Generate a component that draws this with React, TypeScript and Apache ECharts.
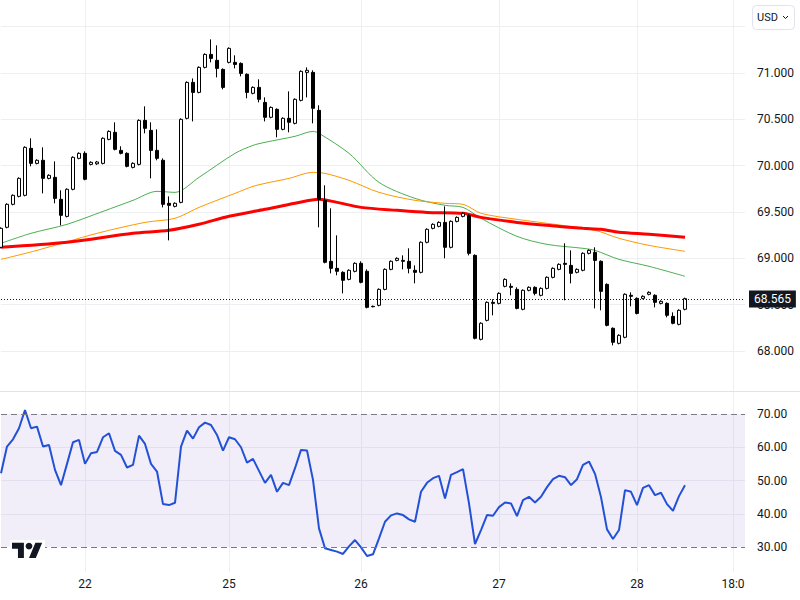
import React, { useEffect, useRef } from 'react';
import * as echarts from 'echarts';

// ---------- data ----------
const categoryCount = 125; // hourly slots on the time axis (incl. empty space on the right)
const tickIndex = [14, 38, 60, 83, 106, 122];
const tickLabels = ['22', '25', '26', '27', '28', '18:0'];

const opens = [
  69.119, 69.335, 69.583, 69.669, 69.680, 70.187, 70.025, 70.058, 69.863, 69.874,
  69.637, 69.453, 69.745, 70.079, 70.133, 70.014, 70.020, 70.025, 70.284, 70.360,
  70.165, 70.133, 69.982, 70.014, 70.489, 70.381, 70.165, 70.058, 69.594, 69.561,
  69.604, 70.511, 70.899, 70.791, 71.061, 71.201, 71.137, 71.039, 71.115, 71.115,
  71.104, 70.986, 70.781, 70.845, 70.683, 70.522, 70.608, 70.392, 70.511, 70.457,
  70.705, 71.007, 71.007, 70.597, 69.626, 68.968, 68.892, 68.849, 68.773, 68.860,
  68.946, 68.860, 68.482, 68.493, 68.665, 68.881, 68.978, 68.978, 68.968, 68.871,
  68.849, 69.173, 69.324, 69.345, 69.388, 69.119, 69.399, 69.453, 69.464, 69.032,
  68.126, 68.331, 68.525, 68.514, 68.698, 68.698, 68.665, 68.450, 68.655, 68.687,
  68.601, 68.676, 68.795, 68.881, 68.946, 68.924, 68.849, 68.871, 69.054, 69.065,
  68.968, 68.719, 68.245, 68.083, 68.148, 68.601, 68.568, 68.568, 68.612, 68.601,
  68.514, 68.514, 68.374, 68.288, 68.450,
];
const closes = [
  69.324, 69.583, 69.680, 69.863, 70.198, 70.025, 70.058, 69.863, 69.896, 69.647,
  69.464, 69.745, 70.090, 70.133, 69.853, 70.036, 70.040, 70.295, 70.370, 70.176,
  70.133, 69.993, 70.025, 70.489, 70.403, 70.165, 70.079, 69.583, 69.572, 69.594,
  70.500, 70.899, 70.791, 71.061, 71.201, 71.158, 71.050, 70.845, 71.266, 71.093,
  70.996, 70.791, 70.845, 70.716, 70.522, 70.629, 70.392, 70.511, 70.468, 70.716,
  71.018, 71.029, 70.619, 69.637, 68.957, 68.892, 68.860, 68.763, 68.871, 68.946,
  68.741, 68.471, 68.478, 68.665, 68.881, 68.968, 69.000, 68.968, 68.892, 68.849,
  69.173, 69.313, 69.367, 69.388, 69.119, 69.399, 69.442, 69.486, 69.054, 68.137,
  68.299, 68.525, 68.514, 68.622, 68.773, 68.687, 68.460, 68.655, 68.687, 68.622,
  68.676, 68.795, 68.892, 68.935, 68.935, 68.838, 68.881, 69.054, 69.086, 68.978,
  68.644, 68.277, 68.094, 68.169, 68.612, 68.590, 68.406, 68.590, 68.633, 68.525,
  68.536, 68.385, 68.299, 68.439, 68.565,
];
const lows = [
  69.108, 69.324, 69.572, 69.658, 69.669, 69.993, 70.014, 69.701, 69.853, 69.594,
  69.356, 69.442, 69.734, 70.069, 69.842, 70.003, 70.009, 70.014, 70.274, 70.165,
  70.122, 69.982, 69.971, 70.003, 70.349, 69.863, 70.058, 69.550, 69.194, 69.550,
  69.594, 70.500, 70.478, 70.781, 71.050, 71.115, 70.953, 70.824, 71.104, 71.050,
  70.964, 70.727, 70.770, 70.683, 70.478, 70.511, 70.306, 70.381, 70.360, 70.446,
  70.694, 70.737, 70.457, 69.335, 68.946, 68.838, 68.817, 68.622, 68.763, 68.849,
  68.730, 68.460, 68.471, 68.482, 68.655, 68.871, 68.968, 68.881, 68.838, 68.730,
  68.838, 69.162, 69.313, 69.335, 69.000, 69.108, 69.388, 69.442, 69.032, 68.126,
  68.115, 68.320, 68.385, 68.503, 68.687, 68.601, 68.450, 68.439, 68.644, 68.601,
  68.590, 68.665, 68.784, 68.871, 68.547, 68.730, 68.838, 68.860, 69.043, 68.460,
  68.439, 68.266, 68.061, 68.072, 68.137, 68.482, 68.395, 68.558, 68.601, 68.471,
  68.503, 68.363, 68.288, 68.277, 68.439,
];
const highs = [
  69.335, 69.594, 69.690, 69.874, 70.209, 70.295, 70.069, 70.198, 69.907, 70.047,
  69.734, 69.756, 70.101, 70.144, 70.155, 70.047, 70.051, 70.306, 70.381, 70.468,
  70.209, 70.144, 70.036, 70.500, 70.640, 70.468, 70.392, 70.079, 69.669, 69.604,
  70.511, 70.910, 70.942, 71.072, 71.212, 71.363, 71.299, 71.050, 71.277, 71.191,
  71.115, 70.996, 70.856, 70.932, 70.737, 70.640, 70.619, 70.522, 70.802, 70.727,
  71.029, 71.061, 71.029, 70.651, 69.788, 69.540, 69.248, 68.860, 68.881, 68.957,
  68.968, 68.881, 68.490, 68.676, 68.892, 68.978, 69.011, 69.032, 69.108, 68.924,
  69.183, 69.324, 69.378, 69.399, 69.561, 69.410, 69.453, 69.497, 69.475, 69.043,
  68.310, 68.536, 68.558, 68.633, 68.784, 68.730, 68.687, 68.665, 68.698, 68.698,
  68.687, 68.806, 68.903, 68.946, 69.162, 69.086, 68.892, 69.065, 69.097, 69.119,
  68.978, 68.730, 68.255, 68.180, 68.622, 68.633, 68.579, 68.601, 68.644, 68.612,
  68.547, 68.525, 68.417, 68.450, 68.576,
];
const lastPrice = 68.565;
const priceMin = 68;
const priceMax = 71.788; // price at the top edge of the upper pane
const priceStep = 0.5;

// moving averages, read at sample bars: [bar index], [value]
const ma50Idx = [0, 5, 11, 17, 22, 26, 29, 33, 39, 42, 44, 49, 52, 53, 58, 63, 69, 74, 77, 80, 86, 91, 97, 99, 103, 108, 114];
const ma50Val = [69.162, 69.270, 69.367, 69.507, 69.626, 69.723, 69.712, 69.874, 70.133, 70.219, 70.252, 70.317, 70.370, 70.349, 70.133, 69.820, 69.647, 69.572, 69.550, 69.432, 69.237, 69.151, 69.108, 69.086, 68.989, 68.914, 68.806];
const ma100Idx = [0, 6, 16, 24, 29, 33, 39, 42, 44, 48, 52, 54, 58, 63, 69, 74, 77, 80, 86, 91, 99, 103, 108, 114];
const ma100Val = [68.989, 69.086, 69.270, 69.388, 69.432, 69.550, 69.701, 69.777, 69.809, 69.863, 69.928, 69.917, 69.842, 69.712, 69.626, 69.594, 69.583, 69.486, 69.421, 69.378, 69.302, 69.216, 69.140, 69.076];
const ma200Idx = [0, 11, 22, 28, 33, 38, 44, 49, 53, 56, 60, 66, 71, 77, 80, 86, 91, 97, 100, 103, 108, 114];
const ma200Val = [69.119, 69.173, 69.270, 69.302, 69.367, 69.454, 69.529, 69.594, 69.637, 69.604, 69.550, 69.518, 69.496, 69.486, 69.442, 69.388, 69.356, 69.324, 69.313, 69.281, 69.259, 69.227];

const rsi = [
  52.2, 60.2, 62.4, 65.7, 71.2, 65.7, 66.2, 60.2, 60.7, 53.2,
  48.6, 55.0, 61.5, 62.2, 55.0, 58.2, 58.6, 63.0, 64.2, 58.9,
  57.7, 53.9, 54.7, 63.5, 61.0, 55.0, 52.7, 42.9, 42.6, 43.3,
  60.2, 65.0, 62.6, 66.0, 67.4, 66.7, 63.7, 59.0, 63.0, 62.4,
  60.0, 55.4, 56.5, 52.9, 49.3, 51.7, 46.6, 49.3, 48.6, 53.7,
  59.2, 59.0, 50.2, 35.6, 29.6, 29.1, 28.6, 27.9, 30.2, 32.1,
  29.9, 27.3, 27.8, 32.6, 37.6, 39.5, 40.1, 39.6, 38.3, 37.6,
  46.6, 49.3, 50.7, 51.4, 44.6, 51.7, 52.5, 53.4, 43.1, 30.9,
  35.1, 39.6, 39.4, 42.0, 43.4, 43.1, 39.3, 44.1, 45.1, 43.4,
  45.1, 48.0, 50.4, 51.4, 51.0, 48.6, 50.4, 54.7, 55.7, 52.0,
  45.0, 35.3, 32.4, 35.1, 47.1, 46.6, 42.6, 47.8, 48.6, 45.6,
  46.3, 42.9, 40.9, 45.3, 48.6,
];
const rsiUpper = 70;
const rsiLower = 30;

// ---------- logo ----------
const LOGO_D = 'M14 22H7V11H0V4h14v18zM28 22h-8l7.5-18h8L28 22z';
let logoRegistered = false;
function registerLogo() {
  if (logoRegistered) return;
  echarts.graphic.registerShape('tvlogo', (echarts.graphic as any).extendPath(LOGO_D, {}));
  logoRegistered = true;
}

const FONT = 'Roboto';
const TEXT = '#131722';
const GRID = '#eeeff3';

export default function App() {
  const ref = useRef<HTMLDivElement>(null);

  useEffect(() => {
    if (!ref.current) return;
    registerLogo();
    const chart = echarts.init(ref.current, undefined, { renderer: 'svg' });

    const categories = Array.from({ length: categoryCount }, (_, i) => String(i));
    const candleData = opens.map((o, i) => [o, closes[i], lows[i], highs[i]]);
    const pairs = (idx: number[], val: number[]) => idx.map((k, i) => [k, val[i]]);
    const isTick = (i: number) => tickIndex.indexOf(i) >= 0;

    const hiddenCat = (gridIndex: number) => ({
      type: 'category',
      gridIndex,
      data: categories,
      boundaryGap: false,
      axisLine: { show: false },
      axisTick: { show: false },
      axisLabel: { show: false },
      splitLine: { show: false },
    });

    const option: any = {
      animation: false,
      backgroundColor: '#ffffff',
      textStyle: { fontFamily: FONT },
      grid: [
        { left: 1, width: 744, top: 0, height: 351 },
        { left: 1, width: 744, top: 414, height: 133 },
        { left: 1, width: 744, top: 0, height: 572 },
      ],
      xAxis: [
        hiddenCat(0),
        hiddenCat(1),
        {
          type: 'category',
          gridIndex: 2,
          data: categories,
          boundaryGap: false,
          axisLine: { show: false },
          axisTick: { show: false },
          axisLabel: {
            interval: (i: number) => isTick(i),
            formatter: (_v: string, i: number) => {
              const p = tickIndex.indexOf(i);
              return p >= 0 ? tickLabels[p] : '';
            },
            margin: 6,
            color: TEXT,
            fontSize: 12,
            fontFamily: FONT,
          },
          splitLine: {
            show: true,
            interval: (i: number) => isTick(i),
            lineStyle: { color: GRID, width: 1 },
          },
        },
      ],
      yAxis: [
        {
          type: 'value',
          gridIndex: 0,
          position: 'right',
          min: priceMin,
          max: priceMax,
          interval: priceStep,
          axisLine: { show: false },
          axisTick: { show: false },
          axisLabel: {
            margin: 12,
            color: TEXT,
            fontSize: 12,
            fontFamily: FONT,
            showMaxLabel: false,
            formatter: (v: number) => (v >= 71.5 ? '' : v.toFixed(3)),
          },
          splitLine: { show: true, showMaxLine: false, lineStyle: { color: GRID, width: 1 } },
        },
        {
          type: 'value',
          gridIndex: 1,
          position: 'right',
          min: 30,
          max: 70,
          interval: 10,
          axisLine: { show: false },
          axisTick: { show: false },
          axisLabel: {
            margin: 12,
            color: TEXT,
            fontSize: 12,
            fontFamily: FONT,
            formatter: (v: number) => v.toFixed(2),
          },
          splitLine: { show: true, showMinLine: false, showMaxLine: false, lineStyle: { color: GRID, width: 1 } },
        },
        { type: 'value', gridIndex: 2, show: false, min: 0, max: 1, splitLine: { show: false } },
      ],
      series: [
        {
          name: 'MA50',
          type: 'line',
          xAxisIndex: 0,
          yAxisIndex: 0,
          data: pairs(ma50Idx, ma50Val),
          symbol: 'none',
          smooth: 0.3,
          lineStyle: { color: '#4caf50', width: 1 },
          z: 1,
        },
        {
          name: 'MA100',
          type: 'line',
          xAxisIndex: 0,
          yAxisIndex: 0,
          data: pairs(ma100Idx, ma100Val),
          symbol: 'none',
          smooth: 0.3,
          lineStyle: { color: '#ff9800', width: 1 },
          z: 1,
        },
        {
          name: 'MA200',
          type: 'line',
          xAxisIndex: 0,
          yAxisIndex: 0,
          data: pairs(ma200Idx, ma200Val),
          symbol: 'none',
          smooth: 0.3,
          lineStyle: { color: '#ff0000', width: 3 },
          z: 1,
        },
        {
          name: 'Price',
          type: 'candlestick',
          xAxisIndex: 0,
          yAxisIndex: 0,
          data: candleData,
          barWidth: 4,
          itemStyle: {
            color: '#ffffff',
            color0: '#000000',
            borderColor: '#000000',
            borderColor0: '#000000',
            borderWidth: 1,
          },
          z: 3,
          markLine: {
            silent: true,
            symbol: ['none', 'none'],
            lineStyle: { color: TEXT, type: [1, 2], width: 1 },
            label: {
              show: true,
              position: 'end',
              distance: 4,
              formatter: () => lastPrice.toFixed(3),
              backgroundColor: TEXT,
              color: '#ffffff',
              fontSize: 12,
              fontFamily: FONT,
              padding: [3, 5, 2, 5],
            },
            data: [{ yAxis: lastPrice }],
          },
        },
        {
          name: 'RSI',
          type: 'line',
          xAxisIndex: 1,
          yAxisIndex: 1,
          data: rsi,
          symbol: 'none',
          clip: false,
          lineStyle: { color: '#2251d6', width: 2 },
          z: 3,
          markArea: {
            silent: true,
            itemStyle: { color: 'rgba(126, 87, 194, 0.1)' },
            data: [[{ yAxis: rsiLower }, { yAxis: rsiUpper }]],
          },
          markLine: {
            silent: true,
            symbol: ['none', 'none'],
            label: { show: false },
            lineStyle: { color: '#787b86', type: [6, 4], width: 1 },
            data: [{ yAxis: rsiUpper }, { yAxis: rsiLower }],
          },
        },
      ],
      graphic: [
        {
          type: 'line',
          z: 50,
          shape: { x1: 0, y1: 391.5, x2: 800, y2: 391.5 },
          style: { stroke: '#e0e3eb', lineWidth: 1 },
        },
        {
          type: 'rect',
          z: 50,
          shape: { x: 752.5, y: 5.5, width: 42, height: 24, r: 4 },
          style: { fill: '#ffffff', stroke: '#e0e3eb', lineWidth: 1 },
        },
        {
          type: 'text',
          z: 51,
          x: 757,
          y: 17.5,
          style: { text: 'USD', fill: TEXT, font: `11px ${FONT}`, verticalAlign: 'middle', align: 'left' },
        },
        {
          type: 'polyline',
          z: 51,
          shape: { points: [[783, 16], [785.5, 18.5], [788, 16]] },
          style: { stroke: TEXT, lineWidth: 1, fill: 'none' },
        },
        {
          type: 'rect',
          z: 50,
          shape: { x: 10, y: 540, width: 35, height: 20 },
          style: { fill: '#ffffff' },
        },
        {
          type: 'tvlogo',
          z: 51,
          x: 12,
          y: 539.3,
          scaleX: 0.85,
          scaleY: 0.85,
          style: { fill: TEXT },
        },
        {
          type: 'circle',
          z: 51,
          shape: { cx: 12 + 20 * 0.85, cy: 539.3 + 8 * 0.85, r: 4 * 0.85 },
          style: { fill: TEXT },
        },
      ],
    };

    chart.setOption(option);
    return () => chart.dispose();
  }, []);

  return (
    <div
      ref={ref}
      style={{ position: 'fixed', left: 0, top: 0, width: 800, height: 600, background: '#ffffff' }}
    />
  );
}
